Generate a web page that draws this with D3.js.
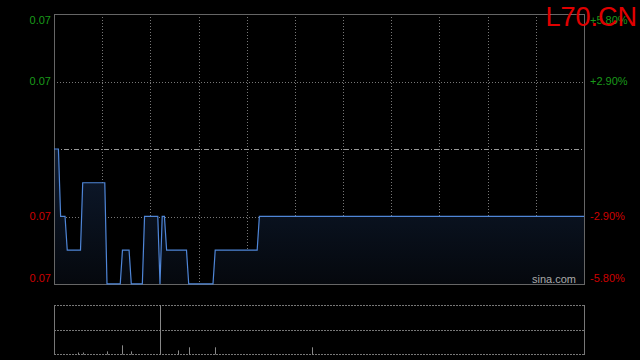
<!DOCTYPE html>
<html>
<head>
<meta charset="utf-8">
<script src="https://cdn.jsdelivr.net/npm/d3@7"></script>
<style>
  html, body { margin: 0; padding: 0; background: #000; }
  svg { display: block; }
</style>
</head>
<body>
<div id="chart"></div>
<script>
// Data
const symbol = 'L70.CN';
const prevClose = 0.069;
const totalMinutes = 240;
// price breakpoints (minute index, price); line is drawn straight between them
const minutes = [0, 2, 3, 5, 6, 12, 13, 23, 24, 30, 31, 34, 35, 40, 41, 47, 48, 49, 50, 51, 60, 61, 72, 73, 92, 93, 240];
const prices = [0.069, 0.069, 0.067, 0.067, 0.066, 0.066, 0.068, 0.068, 0.065, 0.065, 0.066, 0.066, 0.065, 0.065, 0.067, 0.067, 0.065, 0.067, 0.067, 0.066, 0.066, 0.065, 0.065, 0.066, 0.066, 0.067, 0.067];
// volume bars
const volMinutes = [11, 13, 24, 31, 35, 48, 56, 61, 73, 117];
const volumes = [9000, 9000, 16000, 53000, 16000, 300000, 22000, 41000, 41000, 41000];
const pctTicks = [5.8, 2.9, 0, -2.9, -5.8];

const width = 640, height = 360;
const plotLeft = 54, plotRight = 584, plotTop = 14, plotBottom = 284;
const volTop = 305, volBottom = 354;

const svg = d3.select('#chart').append('svg')
  .attr('width', width)
  .attr('height', height)
  .style('background', '#000')
  .style('font-family', '"Liberation Sans", Arial, sans-serif');

const x = d3.scaleLinear().domain([0, totalMinutes]).range([plotLeft, plotRight]);
const y = d3.scaleLinear()
  .domain([prevClose * (1 - 0.058), prevClose * (1 + 0.058)])
  .range([plotBottom, plotTop]);
const yVol = d3.scaleLinear().domain([0, d3.max(volumes)]).range([volBottom, volTop]);

// gradient for the area
const defs = svg.append('defs');
const grad = defs.append('linearGradient')
  .attr('id', 'areaGrad')
  .attr('gradientUnits', 'userSpaceOnUse')
  .attr('x1', 0).attr('x2', 0)
  .attr('y1', y(prevClose)).attr('y2', plotBottom);
grad.append('stop').attr('offset', '0%').attr('stop-color', '#0e1b30');
grad.append('stop').attr('offset', '100%').attr('stop-color', '#05080d');

// vertical grid
const g = svg.append('g');
const vTicks = d3.range(1, 11).map(i => plotLeft + (plotRight - plotLeft) * i / 11);
g.selectAll('.vgrid')
  .data(vTicks)
  .join('line')
  .attr('x1', d => Math.round(d) + 0.5).attr('x2', d => Math.round(d) + 0.5)
  .attr('y1', plotTop).attr('y2', plotBottom)
  .attr('stroke', '#777')
  .attr('stroke-dasharray', '1,2');

// horizontal grid
g.selectAll('.hgrid')
  .data(pctTicks.filter(p => Math.abs(p) !== 5.8))
  .join('line')
  .attr('x1', plotLeft).attr('x2', plotRight)
  .attr('y1', d => Math.round(y(prevClose * (1 + d / 100))) + 0.5)
  .attr('y2', d => Math.round(y(prevClose * (1 + d / 100))) + 0.5)
  .attr('stroke', d => d === 0 ? '#999' : '#777')
  .attr('stroke-dasharray', d => d === 0 ? '5,2,1,2' : '1,2');

// area and line
const pts = minutes.map((m, i) => [m, prices[i]]);
const area = d3.area()
  .x(d => x(d[0]))
  .y0(plotBottom)
  .y1(d => y(d[1]));
const line = d3.line()
  .x(d => x(d[0]))
  .y(d => y(d[1]));

svg.append('path')
  .datum(pts)
  .attr('d', area)
  .attr('fill', 'url(#areaGrad)');

// frame
svg.append('rect')
  .attr('x', plotLeft + 0.5).attr('y', plotTop + 0.5)
  .attr('width', plotRight - plotLeft).attr('height', plotBottom - plotTop)
  .attr('fill', 'none')
  .attr('stroke', '#666');

svg.append('path')
  .datum(pts)
  .attr('d', line)
  .attr('fill', 'none')
  .attr('stroke', '#4f86d8')
  .attr('stroke-width', 1.2);

// axis labels
const labels = svg.append('g').style('font-size', '11px');
pctTicks.forEach(p => {
  if (p === 0) return;
  const price = Math.round(prevClose * (1 + p / 100) * 1000) / 1000;
  let yy = y(prevClose * (1 + p / 100));
  if (p === 5.8) yy += 6;
  if (p === -5.8) yy -= 6;
  const col = p > 0 ? '#1a9a1a' : '#cc0000';
  labels.append('text')
    .attr('x', 51).attr('y', yy)
    .attr('dy', '0.35em')
    .attr('text-anchor', 'end')
    .attr('fill', col)
    .text((Math.round(price * 100) / 100).toFixed(2));
  labels.append('text')
    .attr('x', 590).attr('y', yy)
    .attr('dy', '0.35em')
    .attr('fill', col)
    .text((p > 0 ? '+' : '') + p.toFixed(2) + '%');
});

// watermark
svg.append('text')
  .attr('x', 532).attr('y', 283)
  .attr('fill', '#aaa')
  .style('font-size', '11px')
  .text('sina.com');

// title
svg.append('text')
  .attr('x', 637).attr('y', 26)
  .attr('text-anchor', 'end')
  .attr('fill', '#e00000')
  .style('font-size', '27px')
  .text(symbol);

// volume panel
const vg = svg.append('g');
[volTop, (volTop + volBottom) / 2, volBottom].forEach(yy => {
  vg.append('line')
    .attr('x1', plotLeft).attr('x2', plotRight)
    .attr('y1', Math.round(yy) + 0.5).attr('y2', Math.round(yy) + 0.5)
    .attr('stroke', '#777')
    .attr('stroke-dasharray', '2,1');
});
[plotLeft, plotRight].forEach(xx => {
  vg.append('line')
    .attr('x1', xx + 0.5).attr('x2', xx + 0.5)
    .attr('y1', volTop).attr('y2', volBottom + 1)
    .attr('stroke', '#777');
});
vg.selectAll('.vol')
  .data(volMinutes.map((m, i) => [m, volumes[i]]))
  .join('line')
  .attr('x1', d => Math.round(x(d[0])) + 0.5)
  .attr('x2', d => Math.round(x(d[0])) + 0.5)
  .attr('y1', volBottom + 0.5)
  .attr('y2', d => yVol(d[1]))
  .attr('stroke', '#888');
</script>
</body>
</html>
